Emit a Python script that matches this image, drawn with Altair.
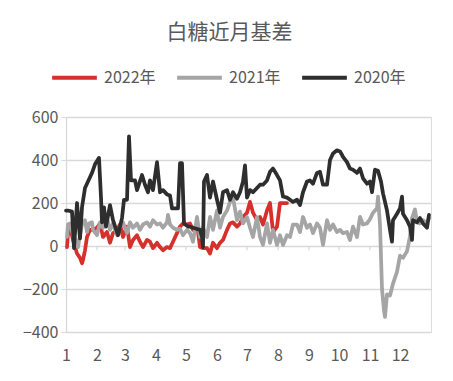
import altair as alt
import pandas as pd

# ---- data (x = day of year, y = basis) ----
month_labels = ["1", "2", "3", "4", "5", "6", "7", "8", "9", "10", "11", "12"]
month_start_day = [0, 31, 59, 90, 120, 151, 181, 212, 243, 273, 304, 334]
series_names = ["2022年", "2021年", "2020年"]
series_colors = ["#d6302c", "#a5a5a5", "#2e2e2e"]

day_2022 = [1, 2, 4, 7, 11, 14, 16, 17, 19, 21, 24, 27, 31, 34, 37, 41, 44, 47, 51, 54, 57, 61, 64, 67,
            71, 74, 77, 81, 84, 87, 91, 94, 97, 101, 104, 107, 111, 114, 117, 121, 124, 127, 131, 134,
            137, 141, 144, 147, 151, 154, 157, 161, 164, 167, 171, 174, 177, 181, 184, 187, 191, 194,
            197, 201, 204, 207, 211, 214, 217, 221]
val_2022 = [-5, 60, 90, 28, -35, -55, -80, -65, -20, 42, 75, 75, 85, 105, 42, 65, 15, 60, 75, 100, 42, 90,
            -5, 28, 50, 20, -5, 28, 20, -10, 15, -5, -20, -5, -10, 20, 60, 90, 105, 100, 105, 75, 100, -5,
            -10, -10, -35, 15, -10, 15, 28, 75, 105, 110, 90, 105, 135, 155, 205, 155, 120, 135, 100, 165,
            200, 65, 90, 200, 200, 200]

day_2021 = [1, 2, 4, 7, 11, 12, 14, 16, 19, 21, 23, 26, 27, 31, 34, 37, 41, 44, 47, 51, 54, 57, 61, 64,
            67, 71, 74, 77, 81, 84, 87, 91, 94, 97, 101, 102, 104, 107, 111, 114, 117, 121, 124, 127, 131,
            134, 137, 141, 144, 147, 151, 154, 157, 161, 164, 167, 171, 174, 177, 181, 184, 187, 191, 194,
            197, 201, 204, 207, 211, 214, 217, 221, 224, 227, 231, 234, 237, 241, 244, 247, 251, 254, 257,
            261, 264, 267, 271, 274, 277, 281, 284, 287, 291, 294, 297, 301, 304, 307, 311, 312, 314, 316,
            318, 319, 321, 324, 327, 331, 334, 337, 341, 344, 346, 349, 351, 354, 357, 361, 363]
val_2021 = [42, 100, 105, 50, 15, -5, 50, 100, 120, 65, 105, 110, 75, 50, 110, 85, 130, 75, 105, 50, 90,
            110, 60, 110, 85, 105, 75, 100, 110, 90, 120, 100, 105, 85, 110, 145, 100, 85, 75, 80, 50, 75,
            60, 20, 135, 42, 85, 42, 135, 75, 165, 85, 135, 165, 205, 225, 120, 160, 105, 135, 85, 42, 135,
            42, 5, 105, 15, 75, 5, 50, 5, 50, 42, 100, 100, 65, 135, 85, 100, 60, 105, 85, 5, 120, 75, 100,
            65, 75, 60, 65, 28, 90, 42, 135, 100, 105, 125, 155, 175, 230, 100, -200, -300, -330, -225,
            -230, -175, -120, -45, -55, -25, 45, 130, 170, 110, 105, 120, 105, 130]

day_2020 = [0, 2, 6, 8, 11, 14, 16, 19, 22, 26, 29, 33, 35, 36, 38, 40, 44, 47, 52, 56, 58, 61, 63, 65,
            69, 71, 76, 79, 82, 84, 87, 91, 94, 97, 101, 104, 106, 112, 114, 116, 118, 122, 124, 127, 134,
            136, 137, 138, 141, 144, 147, 151, 154, 157, 161, 164, 167, 171, 174, 177, 179, 181, 184, 187,
            191, 194, 197, 201, 204, 207, 211, 214, 217, 221, 224, 227, 231, 234, 237, 241, 244, 247, 251,
            254, 257, 261, 264, 267, 271, 274, 277, 281, 284, 287, 291, 294, 297, 301, 304, 306, 309, 312,
            315, 317, 321, 324, 326, 327, 331, 334, 336, 337, 341, 344, 346, 347, 351, 354, 357, 361, 363]
val_2020 = [165, 165, 160, -10, 200, 35, 180, 270, 300, 340, 380, 410, 225, 110, 180, 90, 190, 120, 50,
            130, 215, 215, 510, 305, 305, 260, 330, 285, 250, 305, 260, 390, 250, 260, 240, 235, 175, 175,
            385, 385, 105, 90, 90, 85, 75, 42, -5, 300, 330, 225, 300, 215, 155, 250, 260, 215, 250, 220,
            250, 300, 375, 225, 260, 250, 270, 285, 285, 305, 345, 360, 330, 305, 230, 225, 215, 205, 215,
            190, 250, 300, 305, 290, 340, 345, 285, 285, 400, 430, 445, 440, 415, 390, 360, 355, 340, 360,
            315, 290, 300, 250, 355, 350, 300, 245, 165, 75, 20, 120, 150, 175, 230, 150, 120, 90, 28, 120,
            110, 130, 105, 85, 145]

frames = []
for name, d, v in [("2022年", day_2022, val_2022), ("2021年", day_2021, val_2021), ("2020年", day_2020, val_2020)]:
    frames.append(pd.DataFrame({"series": name, "day": d, "value": v}))
df = pd.concat(frames, ignore_index=True)

ticks_df = pd.DataFrame({"day": month_start_day})

FONT = "Noto Sans CJK SC"
TXT = "#595959"
GRID = "#d9d9d9"

label_expr = "[" + ",".join("'%s'" % m for m in month_labels) + "][indexof([" + \
    ",".join(str(d) for d in month_start_day) + "], datum.value)]"

x_scale = alt.Scale(domain=[0, 365], nice=False, zero=False)
y_scale = alt.Scale(domain=[-400, 600], nice=False)

x_axis = alt.Axis(values=month_start_day, labelExpr=label_expr, title=None, grid=False,
                  domain=False, ticks=False, labelPadding=15, labelFontSize=16,
                  labelOverlap=False, labelFlush=False, labelFont=FONT, labelColor=TXT)

lines = alt.Chart(df).mark_line(strokeWidth=3.75, strokeJoin="round", strokeCap="round").encode(
    x=alt.X("day:Q", scale=x_scale, axis=x_axis),
    y=alt.Y("value:Q", scale=y_scale,
            axis=alt.Axis(values=[-400, -200, 0, 200, 400, 600], title=None, grid=True,
                          gridColor=GRID, gridWidth=1.3, domain=True, domainColor=GRID,
                          domainWidth=1.3, ticks=True, tickColor=GRID, tickSize=5,
                          labelPadding=3, labelFontSize=16, labelFont=FONT, labelColor=TXT)),
    color=alt.Color("series:N", scale=alt.Scale(domain=series_names, range=series_colors),
                    sort=series_names,
                    legend=alt.Legend(title=None, orient="none", direction="horizontal",
                                      legendX=-16, legendY=-64,
                                      symbolType="M-1,0L1,0", symbolSize=2000,
                                      symbolStrokeWidth=4, labelOffset=5, columnPadding=13,
                                      labelFontSize=16, labelFont=FONT, labelColor=TXT)),
    detail="series:N",
    order=alt.Order("day:Q"),
)

zero_ticks = alt.Chart(ticks_df).mark_rule(color=GRID, strokeWidth=1.3).encode(
    x=alt.X("day:Q", scale=x_scale, axis=x_axis),
    y=alt.datum(0),
    y2=alt.datum(-20),
)

chart = alt.layer(zero_ticks, lines).properties(
    width=365,
    height=215,
    autosize=alt.AutoSizeParams(type="none"),
    padding={"left": 58, "top": 109, "right": 14, "bottom": 41},
    title=alt.TitleParams("白糖近月基差", font=FONT, fontSize=21, fontWeight="normal",
                          color=TXT, anchor="middle", frame="group", dx=-19, offset=10),
).configure_view(stroke=None).configure(background="white").configure_axisX(labelOverlap=False)

chart.save("out.html", embed_options={"renderer": "svg", "actions": False})
